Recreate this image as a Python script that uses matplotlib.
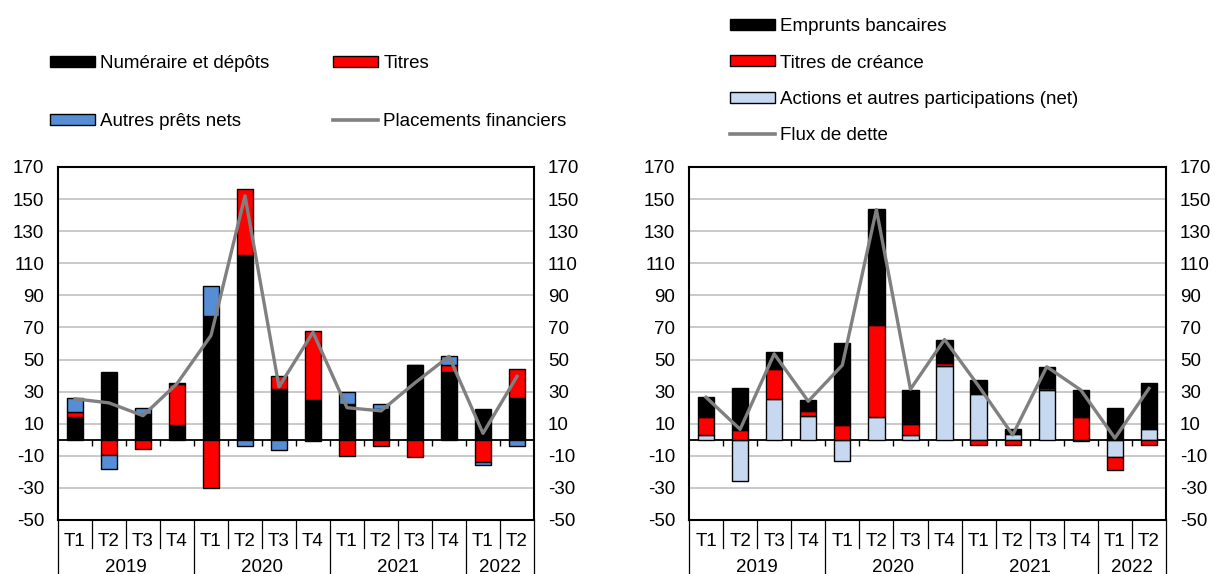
import matplotlib
matplotlib.use("Agg")
import matplotlib.pyplot as plt
import matplotlib.transforms as mtransforms
from matplotlib.patches import Patch
from matplotlib.lines import Line2D
import numpy as np

plt.rcParams['font.family'] = ['Liberation Sans', 'DejaVu Sans']
plt.rcParams['axes.unicode_minus'] = False

quarters = ["T1", "T2", "T3", "T4", "T1", "T2", "T3", "T4",
            "T1", "T2", "T3", "T4", "T1", "T2"]
years = ["2019", "2020", "2021", "2022"]
year_counts = [4, 4, 4, 2]

# left panel: placements financiers
numeraire = [14, 42.5, 16, 9.5, 77, 115, 31.5, 25, 22, 19, 46.5, 42, 19, 26]
titres = [3.5, -9.5, -5.5, 25, -30, 41, 8.5, 42.5, -10, -4, -11, 4.5, -14, 18]
autres_prets = [8.5, -9, 4, 1, 19, -4, -6.5, -1, 8, 3.5, 0, 5.5, -1.5, -4]
placements = [25.5, 23, 15, 35, 65, 152, 33, 67, 20, 18, 35.5, 52, 4, 39.5]

# right panel: flux de dette
actions = [3, -25.5, 25.5, 15, -13.5, 14.5, 3, 46, 28.5, 3.5, 31, -1, -11, 7]
creance = [11, 6, 18.5, 3, 9.5, 57, 7, 2, -3.5, -3.5, 1.5, 14, -8, -3.5]
emprunts = [12.5, 26.5, 10.5, 7, 50.5, 72.5, 21, 14, 8.5, 3, 13, 17, 20, 28.5]
flux_dette = [26.5, 6.5, 53.5, 24, 46.5, 143.5, 31.5, 62.5, 33.5, 3, 45.5, 31, 1, 32]

BLACK = "#000000"
RED = "#FF0000"
BLUE = "#558ED5"
LIGHTBLUE = "#C6D9F1"
GREY = "#808080"
FS = 13.5

W, H = 1215, 574
fig = plt.figure(figsize=(W / 100, H / 100), dpi=100)


def px_axes(x0, x1, y0, y1):
    return fig.add_axes([x0 / W, 1 - y1 / H, (x1 - x0) / W, (y1 - y0) / H])


def stacked(ax, series, colors):
    x = np.arange(len(quarters))
    pos = np.zeros(len(x))
    neg = np.zeros(len(x))
    for vals, c in zip(series, colors):
        v = np.array(vals, dtype=float)
        bottom = np.where(v >= 0, pos, neg)
        ax.bar(x, v, 0.48, bottom=bottom, color=c, edgecolor="black",
               linewidth=1.0, zorder=3)
        pos = pos + np.where(v >= 0, v, 0)
        neg = neg + np.where(v < 0, v, 0)


def style(ax):
    n = len(quarters)
    ax.set_xlim(-0.5, n - 0.5)
    ax.set_ylim(-50, 170)
    ax.set_yticks(np.arange(-50, 171, 20))
    ax.grid(axis="y", color="#C0C0C0", linewidth=1.2, zorder=0)
    ax.set_axisbelow(True)
    for s in ax.spines.values():
        s.set_linewidth(1.5)
    ax.tick_params(axis="y", length=0, pad=10, labelsize=FS,
                   labelleft=True, labelright=True)
    ax.set_xticks(np.arange(n))
    ax.set_xticklabels(quarters)
    ax.tick_params(axis="x", length=0, pad=9, labelsize=FS)

    # zero line with small category ticks
    sec = ax.secondary_xaxis(0, transform=ax.transData)
    sec.spines["bottom"].set_linewidth(1.3)
    sec.set_xticks(np.arange(0.5, n - 1, 1))
    sec.tick_params(axis="x", direction="out", length=4, width=1,
                    labelbottom=False)

    # multi-level category table
    trans = mtransforms.blended_transform_factory(ax.transData, ax.transAxes)
    qrow = -28 / 353
    bounds = np.cumsum([0] + year_counts) - 0.5
    for b in np.arange(0.5, n - 1, 1):
        if b not in bounds:
            ax.plot([b, b], [0, qrow], transform=trans, color="black",
                    linewidth=0.9, clip_on=False)
    for b in bounds:
        ax.plot([b, b], [0, -0.3], transform=trans, color="black",
                linewidth=0.9, clip_on=False)
    for yr, lo, hi in zip(years, bounds[:-1], bounds[1:]):
        ax.text((lo + hi) / 2, -47 / 353, yr, transform=trans, ha="center",
                va="center", fontsize=FS)


# left panel
ax1 = px_axes(58, 534, 167, 520)
stacked(ax1, [numeraire, titres, autres_prets], [BLACK, RED, BLUE])
ax1.plot(np.arange(len(quarters)), placements, color=GREY, linewidth=2.4,
         zorder=4)
style(ax1)

h1 = [Patch(facecolor=BLACK, edgecolor="black", label="Numéraire et dépôts"),
      Patch(facecolor=BLUE, edgecolor="black", label="Autres prêts nets"),
      Patch(facecolor=RED, edgecolor="black", label="Titres"),
      Line2D([], [], color=GREY, linewidth=2.6, label="Placements financiers")]
fig.legend(handles=h1, ncol=2, loc="upper left",
           bbox_to_anchor=(50 / W, 1 - 55 / H), frameon=False, fontsize=FS,
           handlelength=2.4, handleheight=0.53, handletextpad=0.27,
           labelspacing=2.2, columnspacing=3.4, borderpad=0, borderaxespad=0)

# right panel
ax2 = px_axes(689, 1166, 167, 520)
stacked(ax2, [actions, creance, emprunts], [LIGHTBLUE, RED, BLACK])
ax2.plot(np.arange(len(quarters)), flux_dette, color=GREY, linewidth=2.4,
         zorder=4)
style(ax2)

h2 = [Patch(facecolor=BLACK, edgecolor="black", label="Emprunts bancaires"),
      Patch(facecolor=RED, edgecolor="black", label="Titres de créance"),
      Patch(facecolor=LIGHTBLUE, edgecolor="black",
            label="Actions et autres participations (net)"),
      Line2D([], [], color=GREY, linewidth=2.6, label="Flux de dette")]
fig.legend(handles=h2, ncol=1, loc="upper left",
           bbox_to_anchor=(730 / W, 1 - 18 / H), frameon=False, fontsize=FS,
           handlelength=2.4, handleheight=0.53, handletextpad=0.27,
           labelspacing=1.04, borderpad=0, borderaxespad=0)

fig.savefig("out.png", dpi=100)
